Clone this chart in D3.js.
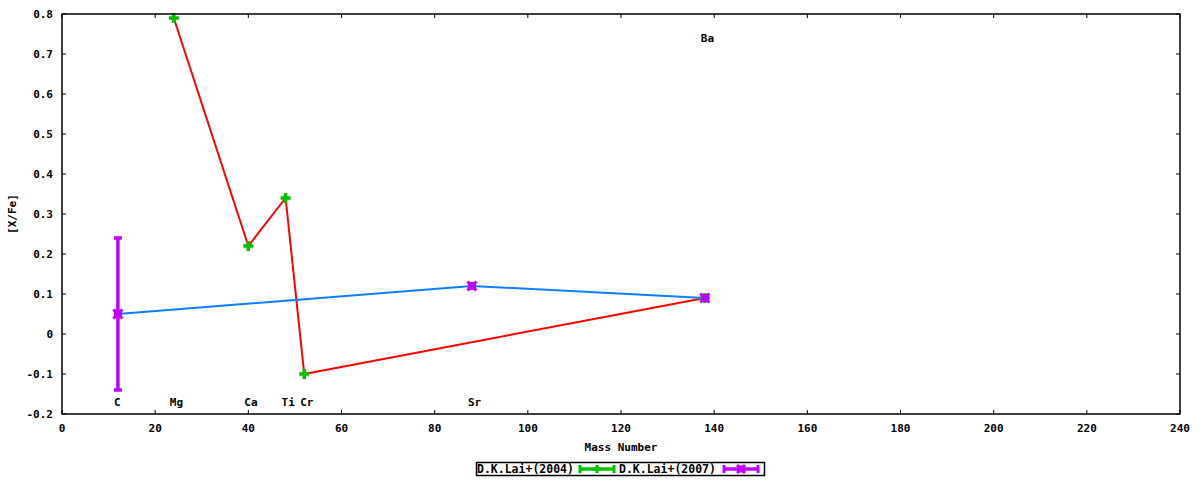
<!DOCTYPE html>
<html>
<head>
<meta charset="utf-8">
<script src="https://cdn.jsdelivr.net/npm/d3@7"></script>
<style>
  html, body { margin: 0; padding: 0; background: #fff; }
  svg text { font-family: "DejaVu Sans Mono", "Liberation Mono", monospace; font-weight: bold; font-size: 11px; fill: #000; }
</style>
</head>
<body>
<svg id="chart" width="1200" height="480"></svg>
<script>
// ---- data ----
const elementNames = ["C", "Mg", "Ca", "Ti", "Cr", "Sr", "Ba"];
const elementMass  = [12, 24, 40, 48, 52, 88, 138];
const elementLabelY = [-0.17, -0.17, -0.17, -0.17, -0.17, -0.17, 0.74];

const lai2004Mass   = [24, 40, 48, 52, 138];
const lai2004Values = [0.79, 0.22, 0.34, -0.10, 0.09];

const lai2007Mass   = [12, 88, 138];
const lai2007Values = [0.05, 0.12, 0.09];
const lai2007Err    = [0.19, 0, 0];

const seriesNames = ["D.K.Lai+(2004)", "D.K.Lai+(2007)"];
const xTicks = [0, 20, 40, 60, 80, 100, 120, 140, 160, 180, 200, 220, 240];
const yTicks = [-0.2, -0.1, 0, 0.1, 0.2, 0.3, 0.4, 0.5, 0.6, 0.7, 0.8];
const xTitle = "Mass Number";
const yTitle = "[X/Fe]";

// ---- layout ----
const svg = d3.select("#chart");
const L = 62, R = 1180, T = 14, B = 414;
const x = d3.scaleLinear().domain([0, 240]).range([L, R]);
const y = d3.scaleLinear().domain([-0.2, 0.8]).range([B, T]);

const RED = "#ff0000", BLUE = "#0a80ff", GREEN = "#00c000", PURPLE = "#c000ff";

// ticks (inward, mirrored)
const tickLen = 4;
const tg = svg.append("g").attr("stroke", "#000").attr("stroke-width", 1);
xTicks.forEach(v => {
  tg.append("line").attr("x1", x(v)).attr("x2", x(v)).attr("y1", B).attr("y2", B - tickLen);
  tg.append("line").attr("x1", x(v)).attr("x2", x(v)).attr("y1", T).attr("y2", T + tickLen);
});
yTicks.forEach(v => {
  tg.append("line").attr("x1", L).attr("x2", L + tickLen).attr("y1", y(v)).attr("y2", y(v));
  tg.append("line").attr("x1", R).attr("x2", R - tickLen).attr("y1", y(v)).attr("y2", y(v));
});

// tick labels
svg.append("g").selectAll("text").data(xTicks).join("text")
  .attr("x", d => x(d)).attr("y", B + 18).attr("text-anchor", "middle").text(d => d);
svg.append("g").selectAll("text").data(yTicks).join("text")
  .attr("x", L - 9).attr("y", d => y(d)).attr("dy", "0.35em").attr("text-anchor", "end")
  .text(d => d3.format(".1~f")(d).replace("−", "-"));

// axis titles
svg.append("text").attr("x", (L + R) / 2).attr("y", B + 37).attr("text-anchor", "middle").text(xTitle);
svg.append("text").attr("transform", `translate(16,${(T + B) / 2}) rotate(-90)`)
  .attr("text-anchor", "middle").text(yTitle);

// element labels
svg.append("g").selectAll("text").data(elementNames).join("text")
  .attr("x", (d, i) => x(elementMass[i]) - 4)
  .attr("y", (d, i) => y(elementLabelY[i]))
  .attr("dy", "0.35em").attr("text-anchor", "start").text(d => d);

// lines
const d2004 = lai2004Mass.map((m, i) => [m, lai2004Values[i]]);
const d2007 = lai2007Mass.map((m, i) => [m, lai2007Values[i], lai2007Err[i]]);

svg.append("path").datum(d2004)
  .attr("d", d3.line().x(d => x(d[0])).y(d => y(d[1])))
  .attr("fill", "none").attr("stroke", RED).attr("stroke-width", 2);

svg.append("path").datum(d2007)
  .attr("d", d3.line().x(d => x(d[0])).y(d => y(d[1])))
  .attr("fill", "none").attr("stroke", BLUE).attr("stroke-width", 2);

// markers
function plus(g, cx, cy, s, color, w) {
  g.append("path").attr("d", `M${cx - s},${cy}H${cx + s}M${cx},${cy - s}V${cy + s}`)
    .attr("stroke", color).attr("stroke-width", w).attr("fill", "none");
}
function cross(g, cx, cy, s, color, w) {
  g.append("path").attr("d", `M${cx - s},${cy - s}L${cx + s},${cy + s}M${cx - s},${cy + s}L${cx + s},${cy - s}`)
    .attr("stroke", color).attr("stroke-width", w).attr("fill", "none");
  g.append("rect").attr("x", cx - s + 0.5).attr("y", cy - s + 0.5).attr("width", 2 * s - 1).attr("height", 2 * s - 1).attr("fill", color);
}
const mg = svg.append("g");
d2004.forEach(d => plus(mg, x(d[0]), y(d[1]), 5, GREEN, 3.5));

d2007.forEach(d => {
  const cx = x(d[0]);
  if (d[2] > 0) {
    const y1 = y(d[1] + d[2]), y0 = y(d[1] - d[2]);
    mg.append("line").attr("x1", cx).attr("x2", cx).attr("y1", y1).attr("y2", y0)
      .attr("stroke", PURPLE).attr("stroke-width", 3.5);
    [y1, y0].forEach(yy => mg.append("line").attr("x1", cx - 4).attr("x2", cx + 4).attr("y1", yy).attr("y2", yy)
      .attr("stroke", PURPLE).attr("stroke-width", 3.5));
  }
  cross(mg, cx, y(d[1]), 4.5, PURPLE, 3);
});

// frame
svg.append("rect").attr("x", L).attr("y", T).attr("width", R - L).attr("height", B - T)
  .attr("fill", "none").attr("stroke", "#000").attr("stroke-width", 1.5);

// legend
const lg = svg.append("g");
lg.append("rect").attr("x", 476.5).attr("y", 462.5).attr("width", 288).attr("height", 13)
  .attr("fill", "#fff").attr("stroke", "#000").attr("stroke-width", 1.5);
const legY = 469;
const legendItems = [
  { name: seriesNames[0], tx: 477, x0: 580, x1: 614, color: GREEN, type: "plus" },
  { name: seriesNames[1], tx: 619, x0: 724, x1: 758, color: PURPLE, type: "cross" }
];
legendItems.forEach(it => {
  lg.append("text").attr("x", it.tx).attr("y", legY).attr("dy", "0.38em").style("font-size", "11.5px").text(it.name);
  lg.append("line").attr("x1", it.x0).attr("x2", it.x1).attr("y1", legY).attr("y2", legY)
    .attr("stroke", it.color).attr("stroke-width", 3.5);
  [it.x0, it.x1].forEach(xx => lg.append("line").attr("x1", xx).attr("x2", xx).attr("y1", legY - 4).attr("y2", legY + 4)
    .attr("stroke", it.color).attr("stroke-width", 3));
  const cx = (it.x0 + it.x1) / 2;
  if (it.type === "plus") plus(lg, cx, legY, 4, it.color, 3);
  else cross(lg, cx, legY, 4, it.color, 3);
});
</script>
</body>
</html>
